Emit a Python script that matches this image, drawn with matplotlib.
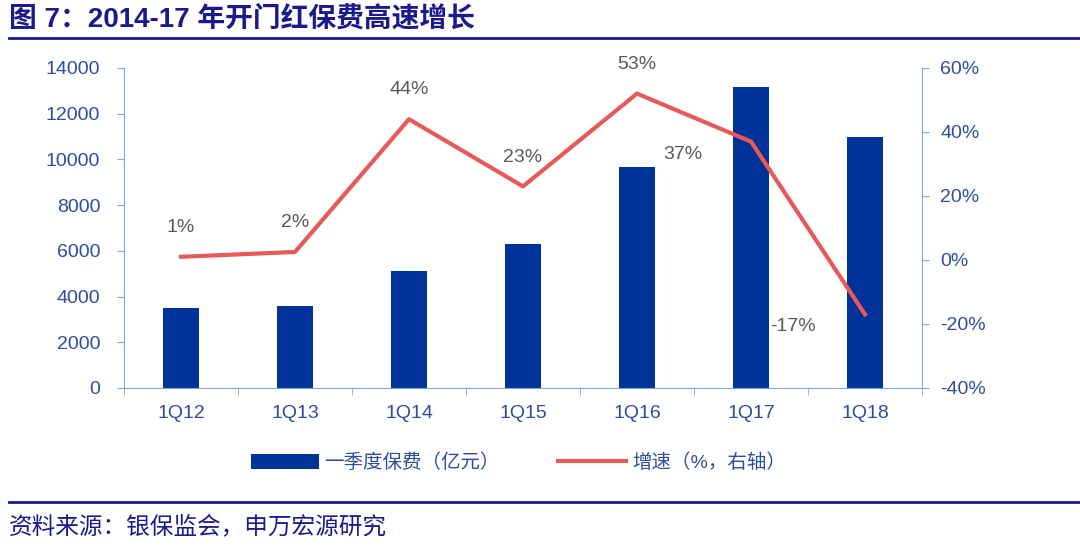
import numpy as np
import matplotlib
matplotlib.use('Agg')
import matplotlib.pyplot as plt
from matplotlib.ticker import FixedLocator, FuncFormatter

plt.rcParams['font.family'] = ['Liberation Sans', 'Noto Sans CJK SC', 'DejaVu Sans']

# Data
quarters = ['1Q12', '1Q13', '1Q14', '1Q15', '1Q16', '1Q17', '1Q18']
premium = [3500, 3590, 5120, 6300, 9670, 13170, 10980]   # 亿元
growth = [1, 2.5, 44, 23, 52, 37, -17]                    # %
growth_labels = ['1%', '2%', '44%', '23%', '53%', '37%', '-17%']

bar_color = '#003399'
line_color = '#e8595a'
spine_color = '#7fa9d9'
tick_color = '#2e4e9c'
navy = '#1a1a8c'

fig = plt.figure(figsize=(10.8, 5.56), dpi=100)
ax = fig.add_axes([0.1148, 0.3022, 0.7389, 0.5755])
x = np.arange(len(quarters))

bars = ax.bar(x, premium, width=0.32, color=bar_color, zorder=2)
ax.set_xlim(-0.5, len(quarters) - 0.5)
ax.set_ylim(0, 14000)
ax.set_yticks(range(0, 14001, 2000))
ax.set_xticks(x)
ax.set_xticklabels(quarters)
ax.xaxis.set_minor_locator(FixedLocator(np.arange(-0.5, len(quarters), 1)))
ax.tick_params(axis='x', which='major', length=0, pad=12, labelsize=14, labelcolor=tick_color)
ax.tick_params(axis='x', which='minor', length=5, color=spine_color)
ax.tick_params(axis='y', length=5, color=spine_color, labelsize=14, labelcolor=tick_color, pad=12)

ax2 = ax.twinx()
line, = ax2.plot(x, growth, color=line_color, lw=3, zorder=3)
ax2.set_ylim(-40, 60)
ax2.set_yticks(range(-40, 61, 20))
ax2.yaxis.set_major_formatter(FuncFormatter(lambda v, p: f'{int(v)}%'))
ax2.tick_params(axis='y', length=5, color=spine_color, labelsize=14, labelcolor=tick_color, pad=8)

for a in (ax, ax2):
    a.spines['top'].set_visible(False)
    for s in ('left', 'right', 'bottom'):
        a.spines[s].set_color(spine_color)
ax.spines['right'].set_visible(False)
ax2.spines['left'].set_visible(False)
ax2.spines['bottom'].set_visible(False)

# data labels (offsets in points)
offsets = [(0, 15), (0, 15), (0, 15), (0, 15), (0, 15), (-49, -9), (-52, -9)]
for xi, yi, lab, off in zip(x, growth, growth_labels, offsets):
    ax2.annotate(lab, (xi, yi), xytext=off, textcoords='offset points',
                 ha='center', va='bottom' if off[1] > 0 else 'center',
                 fontsize=14, color='#595959')

fig.legend([bars, line], ['一季度保费（亿元）', '增速（%，右轴）'],
           loc='center', bbox_to_anchor=(0.48, 0.167), ncol=2, frameon=False,
           fontsize=14, labelcolor=tick_color, handlelength=3.5, handleheight=0.8,
           columnspacing=3, handletextpad=0.3)

fig.text(0.008, 0.965, '图 7：2014-17 年开门红保费高速增长', fontsize=20,
         fontweight='bold', color=navy, va='center', ha='left')
fig.add_artist(plt.Line2D([0.008, 1.0], [0.932, 0.932], color=navy, lw=2))
fig.add_artist(plt.Line2D([0.008, 1.0], [0.097, 0.097], color=navy, lw=2))
fig.text(0.008, 0.052, '资料来源：银保监会，申万宏源研究', fontsize=17,
         color=navy, va='center', ha='left')

fig.savefig('out.png', dpi=100)
